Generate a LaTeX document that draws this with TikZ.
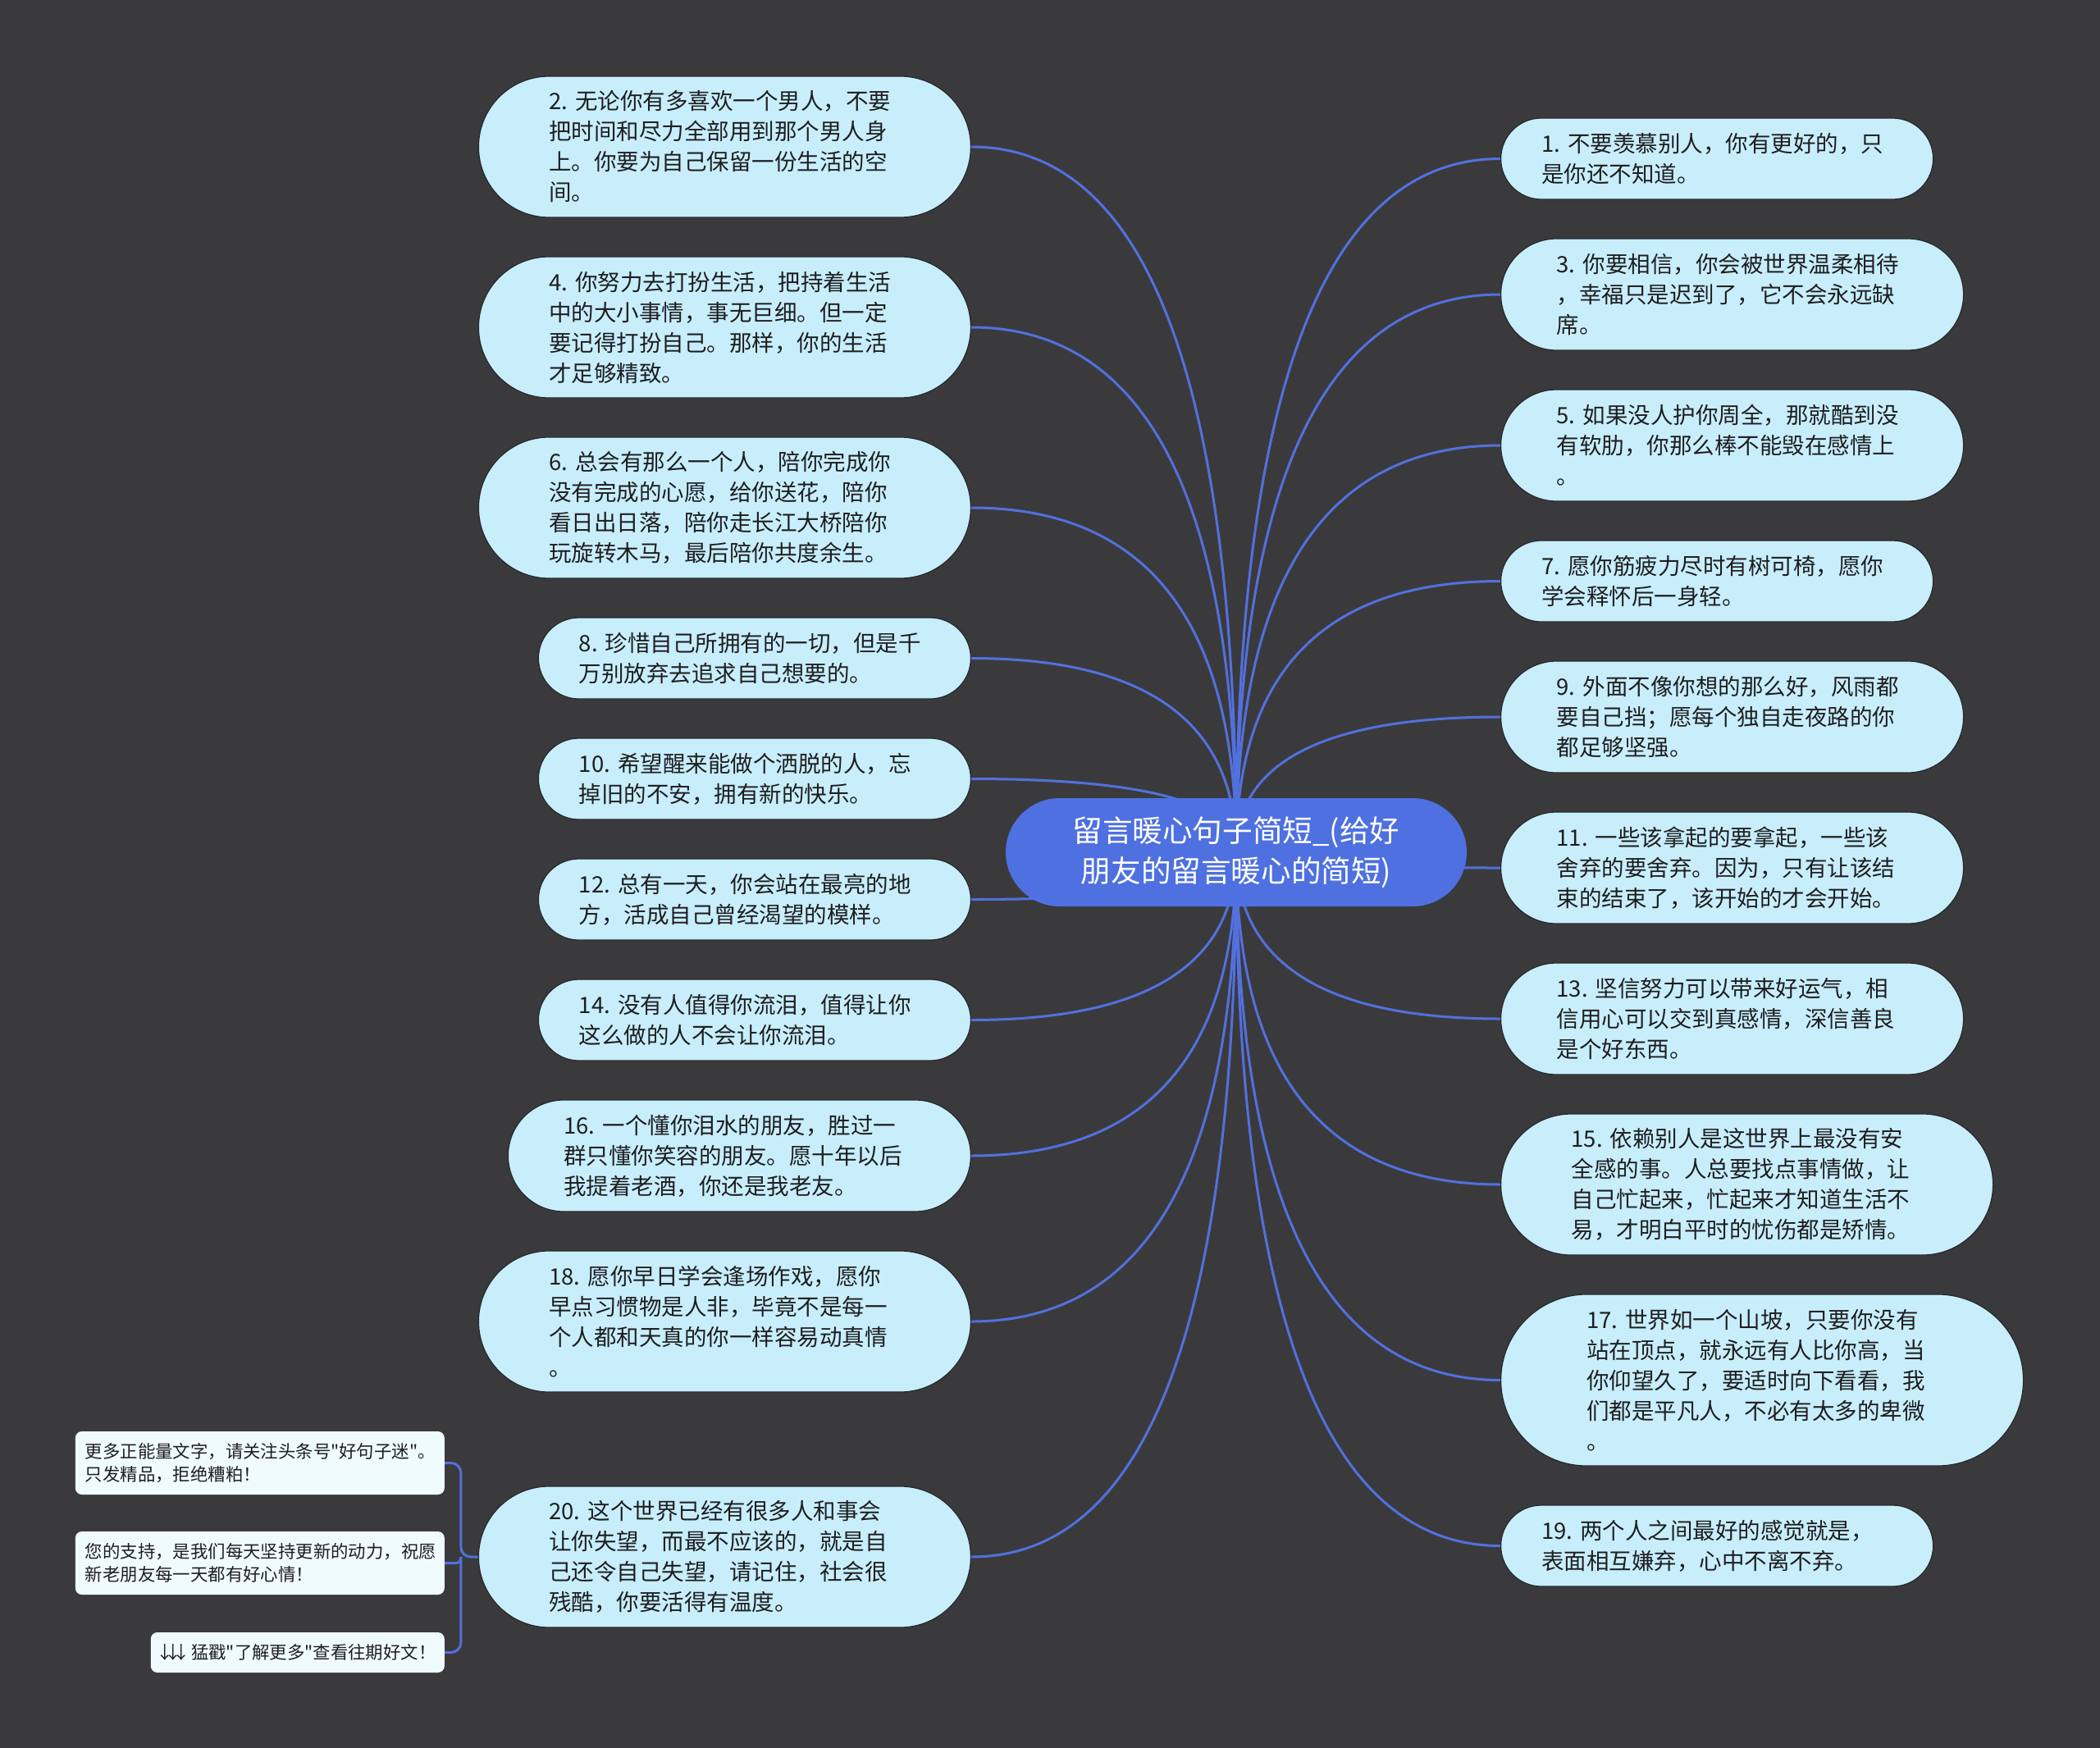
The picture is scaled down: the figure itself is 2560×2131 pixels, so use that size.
\documentclass[tikz,border=0pt]{standalone}
\usepackage{fontspec}
\newfontfamily\cjk{Noto Sans CJK SC}
\usetikzlibrary{calc}
\pgfdeclarelayer{bg}
\pgfdeclarelayer{edges}
\pgfsetlayers{bg,edges,main}
\definecolor{bgc}{RGB}{58,58,60}
\definecolor{nodefill}{RGB}{200,238,252}
\definecolor{nodeline}{RGB}{38,40,44}
\definecolor{ctrfill}{RGB}{78,112,224}
\definecolor{edgec}{RGB}{82,112,222}
\definecolor{smallfill}{RGB}{240,251,254}
\definecolor{txt}{RGB}{30,30,32}
\tikzset{
  bub/.style={draw=nodeline, line width=1.2pt, fill=nodefill, text=txt,
    font=\cjk\fontsize{27.5}{37}\selectfont, align=left, text width=428pt, inner ysep=0pt},
  bubh/.style n args={2}{bub, minimum height=#1pt, inner xsep=#2pt, rounded corners=#2pt},
  pillB/.style={bubh={99}{49.5}},
  pillC/.style={bubh={136}{68}},
  pillD/.style={bubh={172}{86}},
  pillE/.style={bubh={209}{104.5}},
  lft/.style={anchor=east},
  rgt/.style={anchor=west},
  smallbox/.style={fill=smallfill, text=txt, font=\cjk\fontsize{21.4}{28}\selectfont,
    rounded corners=8pt, align=left, inner xsep=12pt, inner ysep=0pt, anchor=east},
  ctrbox/.style={fill=ctrfill, text=white, font=\cjk\fontsize{36.6}{49}\selectfont,
    align=center, minimum width=562pt, minimum height=132pt, rounded corners=66pt, inner sep=0pt},
  conn/.style={draw=edgec, line width=3pt}
}
\newcommand\mmL[1]{\draw[conn] (ctr.center) .. controls ($(ctr.center)!0.6667!(ctr.center|-#1.east)$) and ($(#1.east)!0.6667!(ctr.center|-#1.east)$) .. (#1.east);}
\newcommand\mmR[1]{\draw[conn] (ctr.center) .. controls ($(ctr.center)!0.6667!(ctr.center|-#1.west)$) and ($(#1.west)!0.6667!(ctr.center|-#1.west)$) .. (#1.west);}
\newcommand\narrowarrow{\makebox[0.47em][c]{↓}}
\begin{document}
\begin{tikzpicture}[x=1pt,y=-1pt]
\useasboundingbox (0,0) rectangle (2560,2131);
\begin{pgfonlayer}{bg}
\fill[bgc] (0,0) rectangle (2560,2131);
\end{pgfonlayer}

% centre
\node[ctrbox] (ctr) at (1507,1039) {留言暖心句子简短\_(给好\\朋友的留言暖心的简短)};

% left column
\node[pillD,lft] (L2) at (1184,179) {2.~无论你有多喜欢一个男人，不要\\把时间和尽力全部用到那个男人身\\上。你要为自己保留一份生活的空\\间。};
\node[pillD,lft] (L4) at (1184,399) {4.~你努力去打扮生活，把持着生活\\中的大小事情，事无巨细。但一定\\要记得打扮自己。那样，你的生活\\才足够精致。};
\node[pillD,lft] (L6) at (1184,619) {6.~总会有那么一个人，陪你完成你\\没有完成的心愿，给你送花，陪你\\看日出日落，陪你走长江大桥陪你\\玩旋转木马，最后陪你共度余生。};
\node[pillB,lft] (L8) at (1184,802.5) {8.~珍惜自己所拥有的一切，但是千\\万别放弃去追求自己想要的。};
\node[pillB,lft] (L10) at (1184,949.5) {10.~希望醒来能做个洒脱的人，忘\\掉旧的不安，拥有新的快乐。};
\node[pillB,lft] (L12) at (1184,1096.5) {12.~总有一天，你会站在最亮的地\\方，活成自己曾经渴望的模样。};
\node[pillB,lft] (L14) at (1184,1243.5) {14.~没有人值得你流泪，值得让你\\这么做的人不会让你流泪。};
\node[pillC,lft] (L16) at (1184,1409) {16.~一个懂你泪水的朋友，胜过一\\群只懂你笑容的朋友。愿十年以后\\我提着老酒，你还是我老友。};
\node[pillD,lft] (L18) at (1184,1611) {18.~愿你早日学会逢场作戏，愿你\\早点习惯物是人非，毕竟不是每一\\个人都和天真的你一样容易动真情\\。};
\node[pillD,lft] (L20) at (1184,1898) {20.~这个世界已经有很多人和事会\\让你失望，而最不应该的，就是自\\己还令自己失望，请记住，社会很\\残酷，你要活得有温度。};

% right column
\node[pillB,rgt] (R1) at (1829,193.5) {1.~不要羡慕别人，你有更好的，只\\是你还不知道。};
\node[pillC,rgt] (R3) at (1829,359) {3.~你要相信，你会被世界温柔相待\\，幸福只是迟到了，它不会永远缺\\席。};
\node[pillC,rgt] (R5) at (1829,543) {5.~如果没人护你周全，那就酷到没\\有软肋，你那么棒不能毁在感情上\\。};
\node[pillB,rgt] (R7) at (1829,708.5) {7.~愿你筋疲力尽时有树可椅，愿你\\学会释怀后一身轻。};
\node[pillC,rgt] (R9) at (1829,874) {9.~外面不像你想的那么好，风雨都\\要自己挡；愿每个独自走夜路的你\\都足够坚强。};
\node[pillC,rgt] (R11) at (1829,1058) {11.~一些该拿起的要拿起，一些该\\舍弃的要舍弃。因为，只有让该结\\束的结束了，该开始的才会开始。};
\node[pillC,rgt] (R13) at (1829,1242) {13.~坚信努力可以带来好运气，相\\信用心可以交到真感情，深信善良\\是个好东西。};
\node[pillD,rgt] (R15) at (1829,1444) {15.~依赖别人是这世界上最没有安\\全感的事。人总要找点事情做，让\\自己忙起来，忙起来才知道生活不\\易，才明白平时的忧伤都是矫情。};
\node[pillE,rgt] (R17) at (1829,1682.5) {17.~世界如一个山坡，只要你没有\\站在顶点，就永远有人比你高，当\\你仰望久了，要适时向下看看，我\\们都是平凡人，不必有太多的卑微\\。};
\node[pillB,rgt] (R19) at (1829,1884.5) {19.~两个人之间最好的感觉就是，\\表面相互嫌弃，心中不离不弃。};

% small notes
\node[smallbox, minimum height=77pt, text width=426pt] (S1) at (542,1783.5) {更多正能量文字，请关注头条号"好句子迷"。\\只发精品，拒绝糟粕！};
\node[smallbox, minimum height=77pt, text width=426pt] (S2) at (542,1905.5) {您的支持，是我们每天坚持更新的动力，祝愿\\新老朋友每一天都有好心情！};
\node[smallbox, minimum height=49pt, text width=334pt] (S3) at (542,2014.5) {\narrowarrow\narrowarrow\narrowarrow~猛戳"了解更多"查看往期好文！};

% connectors
\begin{pgfonlayer}{edges}
\mmL{L2}\mmL{L4}\mmL{L6}\mmL{L8}\mmL{L10}\mmL{L12}\mmL{L14}\mmL{L16}\mmL{L18}\mmL{L20}
\mmR{R1}\mmR{R3}\mmR{R5}\mmR{R7}\mmR{R9}\mmR{R11}\mmR{R13}\mmR{R15}\mmR{R17}\mmR{R19}
\draw[conn, rounded corners=12pt] (L20.west) -- ++(-21,0) coordinate (spine) |- (S1.east);
\draw[conn, rounded corners=6pt] (spine) |- (S2.east);
\draw[conn, rounded corners=12pt] (spine) |- (S3.east);
\end{pgfonlayer}
\end{tikzpicture}
\end{document}
